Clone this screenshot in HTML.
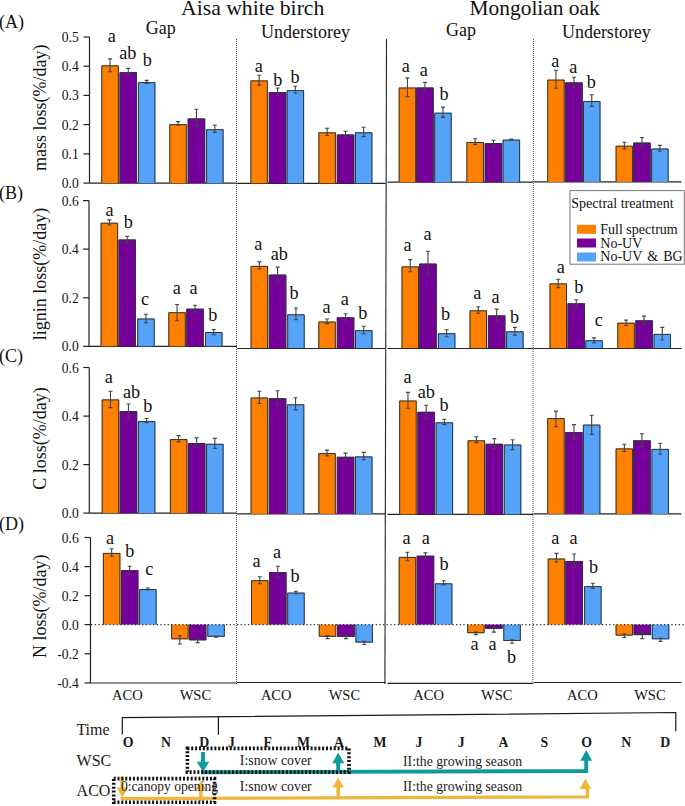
<!DOCTYPE html>
<html><head><meta charset="utf-8"><style>
html,body{margin:0;padding:0;background:#fff;width:685px;height:806px;overflow:hidden;position:relative}
</style></head><body>
<svg width="685" height="806" viewBox="0 0 685 806" style="position:absolute;left:0;top:0">
<g font-family='Liberation Serif' fill="#111">
<text x="181.0" y="15.0" font-size="21.7" text-anchor="start" font-weight="normal" >Aisa white birch</text>
<text x="469.6" y="15.0" font-size="21.4" text-anchor="start" font-weight="normal" >Mongolian oak</text>
<text x="145.8" y="33.5" font-size="18" text-anchor="start" font-weight="normal" >Gap</text>
<text x="261.1" y="37.5" font-size="18" text-anchor="start" font-weight="normal" >Understorey</text>
<text x="445.9" y="35.9" font-size="18" text-anchor="start" font-weight="normal" >Gap</text>
<text x="561.9" y="37.5" font-size="18" text-anchor="start" font-weight="normal" >Understorey</text>
<text x="-1.0" y="27.7" font-size="18" text-anchor="start" font-weight="normal" >(A)</text>
<text x="-1.0" y="199.0" font-size="18" text-anchor="start" font-weight="normal" >(B)</text>
<text x="-1.0" y="361.9" font-size="18" text-anchor="start" font-weight="normal" >(C)</text>
<text x="-1.0" y="529.6" font-size="18" text-anchor="start" font-weight="normal" >(D)</text>
<text x="0" y="0" font-size="18" text-anchor="middle" transform="translate(46.4 107.7) rotate(-90)">mass loss(%/day)</text>
<text x="0" y="0" font-size="18" text-anchor="middle" transform="translate(46.4 273.9) rotate(-90)">lignin loss(%/day)</text>
<text x="0" y="0" font-size="18" text-anchor="middle" transform="translate(46.4 438.5) rotate(-90)">C loss(%/day)</text>
<text x="0" y="0" font-size="18" text-anchor="middle" transform="translate(46.4 606.2) rotate(-90)">N loss(%/day)</text>
</g>
<g fill="none">
<line x1="236.5" y1="39" x2="236.5" y2="684" stroke="#555" stroke-width="1" stroke-dasharray="1 1"/>
<line x1="386.5" y1="39" x2="384.9" y2="684" stroke="#222" stroke-width="1.1"/>
<line x1="533.5" y1="39" x2="532.8" y2="684" stroke="#555" stroke-width="1" stroke-dasharray="1 1"/>
</g>
<line x1="89.5" y1="37.0" x2="89.5" y2="183.1" stroke="#222" stroke-width="1.2"/>
<line x1="83.5" y1="37.0" x2="89.5" y2="37.0" stroke="#222" stroke-width="1.2"/>
<text x="78.7" y="42.0" font-size="13.6" text-anchor="end" font-family='Liberation Serif' fill="#111">0.5</text>
<line x1="83.5" y1="66.2" x2="89.5" y2="66.2" stroke="#222" stroke-width="1.2"/>
<text x="78.7" y="71.2" font-size="13.6" text-anchor="end" font-family='Liberation Serif' fill="#111">0.4</text>
<line x1="83.5" y1="95.4" x2="89.5" y2="95.4" stroke="#222" stroke-width="1.2"/>
<text x="78.7" y="100.4" font-size="13.6" text-anchor="end" font-family='Liberation Serif' fill="#111">0.3</text>
<line x1="83.5" y1="124.6" x2="89.5" y2="124.6" stroke="#222" stroke-width="1.2"/>
<text x="78.7" y="129.6" font-size="13.6" text-anchor="end" font-family='Liberation Serif' fill="#111">0.2</text>
<line x1="83.5" y1="153.9" x2="89.5" y2="153.9" stroke="#222" stroke-width="1.2"/>
<text x="78.7" y="158.9" font-size="13.6" text-anchor="end" font-family='Liberation Serif' fill="#111">0.1</text>
<line x1="83.5" y1="183.1" x2="89.5" y2="183.1" stroke="#222" stroke-width="1.2"/>
<text x="78.7" y="188.1" font-size="13.6" text-anchor="end" font-family='Liberation Serif' fill="#111">0.0</text>
<line x1="89.5" y1="183.1" x2="236.8" y2="183.1" stroke="#222" stroke-width="1.2"/>
<line x1="237.2" y1="183.3" x2="385.6" y2="183.3" stroke="#222" stroke-width="1.2"/>
<line x1="387.5" y1="182.2" x2="533.2" y2="182.2" stroke="#222" stroke-width="1.2"/>
<line x1="533.8" y1="181.9" x2="681.5" y2="181.9" stroke="#222" stroke-width="1.2"/>
<rect x="101.30" y="65.30" width="17.5" height="117.80" fill="#ff8000"/>
<path d="M101.80 183.10V65.80H118.30V183.10" fill="none" stroke="#2e3338" stroke-width="1"/>
<path d="M108.05 58.9H112.05M110.05 58.9V71.7M108.05 71.7H112.05" stroke="#444" stroke-width="1.1" fill="none"/>
<rect x="119.50" y="72.20" width="17.5" height="110.90" fill="#76009a"/>
<path d="M120.00 183.10V72.70H136.50V183.10" fill="none" stroke="#2e3338" stroke-width="1"/>
<path d="M126.25 68.4H130.25M128.25 68.4V74.7M126.25 74.7H130.25" stroke="#444" stroke-width="1.1" fill="none"/>
<rect x="137.90" y="82.10" width="17.5" height="101.00" fill="#55a2f9"/>
<path d="M138.40 183.10V82.60H154.90V183.10" fill="none" stroke="#2e3338" stroke-width="1"/>
<path d="M144.65 80.4H148.65M146.65 80.4V83.4M144.65 83.4H148.65" stroke="#444" stroke-width="1.1" fill="none"/>
<rect x="169.30" y="124.20" width="17.5" height="58.90" fill="#ff8000"/>
<path d="M169.80 183.10V124.70H186.30V183.10" fill="none" stroke="#2e3338" stroke-width="1"/>
<path d="M176.05 121.6H180.05M178.05 121.6V125.3M176.05 125.3H180.05" stroke="#444" stroke-width="1.1" fill="none"/>
<rect x="187.70" y="118.50" width="17.5" height="64.60" fill="#76009a"/>
<path d="M188.20 183.10V119.00H204.70V183.10" fill="none" stroke="#2e3338" stroke-width="1"/>
<path d="M194.45 109.3H198.45M196.45 109.3V125.9M194.45 125.9H198.45" stroke="#444" stroke-width="1.1" fill="none"/>
<rect x="206.10" y="129.20" width="17.5" height="53.90" fill="#55a2f9"/>
<path d="M206.60 183.10V129.70H223.10V183.10" fill="none" stroke="#2e3338" stroke-width="1"/>
<path d="M212.85 125.3H216.85M214.85 125.3V132.4M212.85 132.4H216.85" stroke="#444" stroke-width="1.1" fill="none"/>
<text x="107.7" y="41.9" font-size="18.2" font-family='Liberation Serif' fill="#111">a</text>
<text x="119.3" y="59.300000000000004" font-size="18.2" font-family='Liberation Serif' fill="#111">ab</text>
<text x="142.8" y="65.6" font-size="18.2" font-family='Liberation Serif' fill="#111">b</text>
<rect x="250.40" y="80.40" width="17.5" height="102.90" fill="#ff8000"/>
<path d="M250.90 183.30V80.90H267.40V183.30" fill="none" stroke="#2e3338" stroke-width="1"/>
<path d="M257.15 75.2H261.15M259.15 75.2V85.1M257.15 85.1H261.15" stroke="#444" stroke-width="1.1" fill="none"/>
<rect x="268.80" y="92.10" width="17.5" height="91.20" fill="#76009a"/>
<path d="M269.30 183.30V92.60H285.80V183.30" fill="none" stroke="#2e3338" stroke-width="1"/>
<path d="M275.55 88H279.55M277.55 88V95M275.55 95H279.55" stroke="#444" stroke-width="1.1" fill="none"/>
<rect x="286.60" y="90.10" width="17.5" height="93.20" fill="#55a2f9"/>
<path d="M287.10 183.30V90.60H303.60V183.30" fill="none" stroke="#2e3338" stroke-width="1"/>
<path d="M293.35 86.3H297.35M295.35 86.3V93.3M293.35 93.3H297.35" stroke="#444" stroke-width="1.1" fill="none"/>
<rect x="318.40" y="132.30" width="17.5" height="51.00" fill="#ff8000"/>
<path d="M318.90 183.30V132.80H335.40V183.30" fill="none" stroke="#2e3338" stroke-width="1"/>
<path d="M325.15 128.2H329.15M327.15 128.2V135.5M325.15 135.5H329.15" stroke="#444" stroke-width="1.1" fill="none"/>
<rect x="336.80" y="134.50" width="17.5" height="48.80" fill="#76009a"/>
<path d="M337.30 183.30V135.00H353.80V183.30" fill="none" stroke="#2e3338" stroke-width="1"/>
<path d="M343.55 131.2H347.55M345.55 131.2V137M343.55 137H347.55" stroke="#444" stroke-width="1.1" fill="none"/>
<rect x="354.90" y="132.30" width="17.5" height="51.00" fill="#55a2f9"/>
<path d="M355.40 183.30V132.80H371.90V183.30" fill="none" stroke="#2e3338" stroke-width="1"/>
<path d="M361.65 127.2H365.65M363.65 127.2V136.6M361.65 136.6H365.65" stroke="#444" stroke-width="1.1" fill="none"/>
<text x="254.8" y="72.3" font-size="18.2" font-family='Liberation Serif' fill="#111">a</text>
<text x="273.2" y="85.69999999999999" font-size="18.2" font-family='Liberation Serif' fill="#111">b</text>
<text x="290.5" y="82.6" font-size="18.2" font-family='Liberation Serif' fill="#111">b</text>
<rect x="398.70" y="87.50" width="17.5" height="94.70" fill="#ff8000"/>
<path d="M399.20 182.20V88.00H415.70V182.20" fill="none" stroke="#2e3338" stroke-width="1"/>
<path d="M405.45 77.9H409.45M407.45 77.9V96.6M405.45 96.6H409.45" stroke="#444" stroke-width="1.1" fill="none"/>
<rect x="416.20" y="87.50" width="17.5" height="94.70" fill="#76009a"/>
<path d="M416.70 182.20V88.00H433.20V182.20" fill="none" stroke="#2e3338" stroke-width="1"/>
<path d="M422.95 82.4H426.95M424.95 82.4V91.7M422.95 91.7H426.95" stroke="#444" stroke-width="1.1" fill="none"/>
<rect x="434.20" y="112.70" width="17.5" height="69.50" fill="#55a2f9"/>
<path d="M434.70 182.20V113.20H451.20V182.20" fill="none" stroke="#2e3338" stroke-width="1"/>
<path d="M440.95 107.1H444.95M442.95 107.1V117.4M440.95 117.4H444.95" stroke="#444" stroke-width="1.1" fill="none"/>
<rect x="466.40" y="142.00" width="17.5" height="40.20" fill="#ff8000"/>
<path d="M466.90 182.20V142.50H483.40V182.20" fill="none" stroke="#2e3338" stroke-width="1"/>
<path d="M473.15 138.7H477.15M475.15 138.7V144.5M473.15 144.5H477.15" stroke="#444" stroke-width="1.1" fill="none"/>
<rect x="484.70" y="143.10" width="17.5" height="39.10" fill="#76009a"/>
<path d="M485.20 182.20V143.60H501.70V182.20" fill="none" stroke="#2e3338" stroke-width="1"/>
<path d="M491.45 140.3H495.45M493.45 140.3V146.1M491.45 146.1H495.45" stroke="#444" stroke-width="1.1" fill="none"/>
<rect x="502.60" y="139.60" width="17.5" height="42.60" fill="#55a2f9"/>
<path d="M503.10 182.20V140.10H519.60V182.20" fill="none" stroke="#2e3338" stroke-width="1"/>
<path d="M509.35 139H513.35M511.35 139V140M509.35 140H513.35" stroke="#444" stroke-width="1.1" fill="none"/>
<text x="401.8" y="71.5" font-size="18.2" font-family='Liberation Serif' fill="#111">a</text>
<text x="419.8" y="75.5" font-size="18.2" font-family='Liberation Serif' fill="#111">a</text>
<text x="439.40000000000003" y="100.0" font-size="18.2" font-family='Liberation Serif' fill="#111">b</text>
<rect x="547.20" y="79.60" width="17.5" height="102.30" fill="#ff8000"/>
<path d="M547.70 181.90V80.10H564.20V181.90" fill="none" stroke="#2e3338" stroke-width="1"/>
<path d="M553.95 70.2H557.95M555.95 70.2V88.2M553.95 88.2H557.95" stroke="#444" stroke-width="1.1" fill="none"/>
<rect x="565.20" y="82.40" width="17.5" height="99.50" fill="#76009a"/>
<path d="M565.70 181.90V82.90H582.20V181.90" fill="none" stroke="#2e3338" stroke-width="1"/>
<path d="M571.95 77.2H575.95M573.95 77.2V87.7M571.95 87.7H575.95" stroke="#444" stroke-width="1.1" fill="none"/>
<rect x="583.00" y="101.00" width="17.5" height="80.90" fill="#55a2f9"/>
<path d="M583.50 181.90V101.50H600.00V181.90" fill="none" stroke="#2e3338" stroke-width="1"/>
<path d="M589.75 94.8H593.75M591.75 94.8V106.4M589.75 106.4H593.75" stroke="#444" stroke-width="1.1" fill="none"/>
<rect x="615.60" y="145.70" width="17.5" height="36.20" fill="#ff8000"/>
<path d="M616.10 181.90V146.20H632.60V181.90" fill="none" stroke="#2e3338" stroke-width="1"/>
<path d="M622.35 142.2H626.35M624.35 142.2V149M622.35 149H626.35" stroke="#444" stroke-width="1.1" fill="none"/>
<rect x="633.20" y="142.60" width="17.5" height="39.30" fill="#76009a"/>
<path d="M633.70 181.90V143.10H650.20V181.90" fill="none" stroke="#2e3338" stroke-width="1"/>
<path d="M639.95 137.5H643.95M641.95 137.5V147.3M639.95 147.3H643.95" stroke="#444" stroke-width="1.1" fill="none"/>
<rect x="651.10" y="148.50" width="17.5" height="33.40" fill="#55a2f9"/>
<path d="M651.60 181.90V149.00H668.10V181.90" fill="none" stroke="#2e3338" stroke-width="1"/>
<path d="M657.85 145.4H661.85M659.85 145.4V151.3M657.85 151.3H661.85" stroke="#444" stroke-width="1.1" fill="none"/>
<text x="551.1999999999999" y="67.3" font-size="18.2" font-family='Liberation Serif' fill="#111">a</text>
<text x="569.1999999999999" y="72.5" font-size="18.2" font-family='Liberation Serif' fill="#111">a</text>
<text x="586.6999999999999" y="87.89999999999999" font-size="18.2" font-family='Liberation Serif' fill="#111">b</text>
<line x1="89.0" y1="200.6" x2="89.0" y2="346.3" stroke="#222" stroke-width="1.2"/>
<line x1="83.0" y1="200.6" x2="89.0" y2="200.6" stroke="#222" stroke-width="1.2"/>
<text x="78.7" y="205.6" font-size="13.6" text-anchor="end" font-family='Liberation Serif' fill="#111">0.6</text>
<line x1="83.0" y1="249.1" x2="89.0" y2="249.1" stroke="#222" stroke-width="1.2"/>
<text x="78.7" y="254.1" font-size="13.6" text-anchor="end" font-family='Liberation Serif' fill="#111">0.4</text>
<line x1="83.0" y1="297.8" x2="89.0" y2="297.8" stroke="#222" stroke-width="1.2"/>
<text x="78.7" y="302.8" font-size="13.6" text-anchor="end" font-family='Liberation Serif' fill="#111">0.2</text>
<line x1="83.0" y1="346.3" x2="89.0" y2="346.3" stroke="#222" stroke-width="1.2"/>
<text x="78.7" y="351.3" font-size="13.6" text-anchor="end" font-family='Liberation Serif' fill="#111">0.0</text>
<line x1="89.0" y1="346.4" x2="236.8" y2="346.4" stroke="#222" stroke-width="1.2"/>
<line x1="237.2" y1="348.5" x2="385.6" y2="348.5" stroke="#222" stroke-width="1.2"/>
<line x1="387.5" y1="348.5" x2="533.2" y2="348.5" stroke="#222" stroke-width="1.2"/>
<line x1="533.8" y1="348.5" x2="681.5" y2="348.5" stroke="#222" stroke-width="1.2"/>
<rect x="100.60" y="222.70" width="17.5" height="123.60" fill="#ff8000"/>
<path d="M101.10 346.30V223.20H117.60V346.30" fill="none" stroke="#2e3338" stroke-width="1"/>
<path d="M107.35 219.9H111.35M109.35 219.9V225M107.35 225H111.35" stroke="#444" stroke-width="1.1" fill="none"/>
<rect x="118.50" y="239.50" width="17.5" height="106.80" fill="#76009a"/>
<path d="M119.00 346.30V240.00H135.50V346.30" fill="none" stroke="#2e3338" stroke-width="1"/>
<path d="M125.25 236.3H129.25M127.25 236.3V242.6M125.25 242.6H129.25" stroke="#444" stroke-width="1.1" fill="none"/>
<rect x="137.20" y="318.50" width="17.5" height="27.80" fill="#55a2f9"/>
<path d="M137.70 346.30V319.00H154.20V346.30" fill="none" stroke="#2e3338" stroke-width="1"/>
<path d="M143.95 314.3H147.95M145.95 314.3V322.7M143.95 322.7H147.95" stroke="#444" stroke-width="1.1" fill="none"/>
<rect x="168.30" y="312.20" width="17.5" height="34.10" fill="#ff8000"/>
<path d="M168.80 346.30V312.70H185.30V346.30" fill="none" stroke="#2e3338" stroke-width="1"/>
<path d="M175.05 304.5H179.05M177.05 304.5V320.8M175.05 320.8H179.05" stroke="#444" stroke-width="1.1" fill="none"/>
<rect x="186.30" y="308.70" width="17.5" height="37.60" fill="#76009a"/>
<path d="M186.80 346.30V309.20H203.30V346.30" fill="none" stroke="#2e3338" stroke-width="1"/>
<path d="M193.05 305.2H197.05M195.05 305.2V312.2M193.05 312.2H197.05" stroke="#444" stroke-width="1.1" fill="none"/>
<rect x="205.00" y="332.00" width="17.5" height="14.30" fill="#55a2f9"/>
<path d="M205.50 346.30V332.50H222.00V346.30" fill="none" stroke="#2e3338" stroke-width="1"/>
<path d="M211.75 329.5H215.75M213.75 329.5V334.8M211.75 334.8H215.75" stroke="#444" stroke-width="1.1" fill="none"/>
<text x="105.5" y="215.79999999999998" font-size="18.2" font-family='Liberation Serif' fill="#111">a</text>
<text x="123.7" y="228.0" font-size="18.2" font-family='Liberation Serif' fill="#111">b</text>
<text x="141.0" y="305.1" font-size="18.2" font-family='Liberation Serif' fill="#111">c</text>
<text x="172.8" y="293.90000000000003" font-size="18.2" font-family='Liberation Serif' fill="#111">a</text>
<text x="189.60000000000002" y="293.90000000000003" font-size="18.2" font-family='Liberation Serif' fill="#111">a</text>
<text x="208.3" y="321.40000000000003" font-size="18.2" font-family='Liberation Serif' fill="#111">b</text>
<rect x="250.60" y="265.90" width="17.5" height="82.20" fill="#ff8000"/>
<path d="M251.10 348.10V266.40H267.60V348.10" fill="none" stroke="#2e3338" stroke-width="1"/>
<path d="M257.35 261.9H261.35M259.35 261.9V269M257.35 269H261.35" stroke="#444" stroke-width="1.1" fill="none"/>
<rect x="268.80" y="274.60" width="17.5" height="73.50" fill="#76009a"/>
<path d="M269.30 348.10V275.10H285.80V348.10" fill="none" stroke="#2e3338" stroke-width="1"/>
<path d="M275.55 267.1H279.55M277.55 267.1V281.6M275.55 281.6H279.55" stroke="#444" stroke-width="1.1" fill="none"/>
<rect x="287.20" y="314.30" width="17.5" height="33.80" fill="#55a2f9"/>
<path d="M287.70 348.10V314.80H304.20V348.10" fill="none" stroke="#2e3338" stroke-width="1"/>
<path d="M293.95 308H297.95M295.95 308V319.6M293.95 319.6H297.95" stroke="#444" stroke-width="1.1" fill="none"/>
<rect x="318.30" y="321.50" width="17.5" height="26.60" fill="#ff8000"/>
<path d="M318.80 348.10V322.00H335.30V348.10" fill="none" stroke="#2e3338" stroke-width="1"/>
<path d="M325.05 319H329.05M327.05 319V323.6M325.05 323.6H329.05" stroke="#444" stroke-width="1.1" fill="none"/>
<rect x="336.80" y="317.30" width="17.5" height="30.80" fill="#76009a"/>
<path d="M337.30 348.10V317.80H353.80V348.10" fill="none" stroke="#2e3338" stroke-width="1"/>
<path d="M343.55 313.8H347.55M345.55 313.8V320.3M343.55 320.3H347.55" stroke="#444" stroke-width="1.1" fill="none"/>
<rect x="355.00" y="330.20" width="17.5" height="17.90" fill="#55a2f9"/>
<path d="M355.50 348.10V330.70H372.00V348.10" fill="none" stroke="#2e3338" stroke-width="1"/>
<path d="M361.75 326.2H365.75M363.75 326.2V333.7M361.75 333.7H365.75" stroke="#444" stroke-width="1.1" fill="none"/>
<text x="254.3" y="250.2" font-size="18.2" font-family='Liberation Serif' fill="#111">a</text>
<text x="270.7" y="260.20000000000005" font-size="18.2" font-family='Liberation Serif' fill="#111">ab</text>
<text x="289.40000000000003" y="298.5" font-size="18.2" font-family='Liberation Serif' fill="#111">b</text>
<text x="322.5" y="313.20000000000005" font-size="18.2" font-family='Liberation Serif' fill="#111">a</text>
<text x="340.8" y="304.6" font-size="18.2" font-family='Liberation Serif' fill="#111">a</text>
<text x="358.3" y="319.1" font-size="18.2" font-family='Liberation Serif' fill="#111">b</text>
<rect x="401.50" y="266.40" width="17.5" height="81.70" fill="#ff8000"/>
<path d="M402.00 348.10V266.90H418.50V348.10" fill="none" stroke="#2e3338" stroke-width="1"/>
<path d="M408.25 259.6H412.25M410.25 259.6V271.8M408.25 271.8H412.25" stroke="#444" stroke-width="1.1" fill="none"/>
<rect x="419.20" y="263.60" width="17.5" height="84.50" fill="#76009a"/>
<path d="M419.70 348.10V264.10H436.20V348.10" fill="none" stroke="#2e3338" stroke-width="1"/>
<path d="M425.95 251.2H429.95M427.95 251.2V275.3M425.95 275.3H429.95" stroke="#444" stroke-width="1.1" fill="none"/>
<rect x="437.90" y="333.20" width="17.5" height="14.90" fill="#55a2f9"/>
<path d="M438.40 348.10V333.70H454.90V348.10" fill="none" stroke="#2e3338" stroke-width="1"/>
<path d="M444.65 329.7H448.65M446.65 329.7V336.7M444.65 336.7H448.65" stroke="#444" stroke-width="1.1" fill="none"/>
<rect x="469.50" y="310.30" width="17.5" height="37.80" fill="#ff8000"/>
<path d="M470.00 348.10V310.80H486.50V348.10" fill="none" stroke="#2e3338" stroke-width="1"/>
<path d="M476.25 306.8H480.25M478.25 306.8V313.3M476.25 313.3H480.25" stroke="#444" stroke-width="1.1" fill="none"/>
<rect x="487.90" y="315.40" width="17.5" height="32.70" fill="#76009a"/>
<path d="M488.40 348.10V315.90H504.90V348.10" fill="none" stroke="#2e3338" stroke-width="1"/>
<path d="M494.65 309.1H498.65M496.65 309.1V320.8M494.65 320.8H498.65" stroke="#444" stroke-width="1.1" fill="none"/>
<rect x="506.10" y="331.30" width="17.5" height="16.80" fill="#55a2f9"/>
<path d="M506.60 348.10V331.80H523.10V348.10" fill="none" stroke="#2e3338" stroke-width="1"/>
<path d="M512.85 327.4H516.85M514.85 327.4V335.3M512.85 335.3H516.85" stroke="#444" stroke-width="1.1" fill="none"/>
<text x="403.6" y="251.29999999999998" font-size="18.2" font-family='Liberation Serif' fill="#111">a</text>
<text x="423.5" y="240.1" font-size="18.2" font-family='Liberation Serif' fill="#111">a</text>
<text x="441.0" y="320.20000000000005" font-size="18.2" font-family='Liberation Serif' fill="#111">b</text>
<text x="473.2" y="298.8" font-size="18.2" font-family='Liberation Serif' fill="#111">a</text>
<text x="491.5" y="303.40000000000003" font-size="18.2" font-family='Liberation Serif' fill="#111">a</text>
<text x="510.1" y="323.0" font-size="18.2" font-family='Liberation Serif' fill="#111">b</text>
<rect x="549.50" y="283.40" width="17.5" height="64.70" fill="#ff8000"/>
<path d="M550.00 348.10V283.90H566.50V348.10" fill="none" stroke="#2e3338" stroke-width="1"/>
<path d="M556.25 279.2H560.25M558.25 279.2V287.6M556.25 287.6H560.25" stroke="#444" stroke-width="1.1" fill="none"/>
<rect x="567.50" y="303.30" width="17.5" height="44.80" fill="#76009a"/>
<path d="M568.00 348.10V303.80H584.50V348.10" fill="none" stroke="#2e3338" stroke-width="1"/>
<path d="M574.25 299.8H578.25M576.25 299.8V306.1M574.25 306.1H578.25" stroke="#444" stroke-width="1.1" fill="none"/>
<rect x="585.30" y="340.20" width="17.5" height="7.90" fill="#55a2f9"/>
<path d="M585.80 348.10V340.70H602.30V348.10" fill="none" stroke="#2e3338" stroke-width="1"/>
<path d="M592.05 337.9H596.05M594.05 337.9V343M592.05 343H596.05" stroke="#444" stroke-width="1.1" fill="none"/>
<rect x="617.30" y="322.70" width="17.5" height="25.40" fill="#ff8000"/>
<path d="M617.80 348.10V323.20H634.30V348.10" fill="none" stroke="#2e3338" stroke-width="1"/>
<path d="M624.05 320.1H628.05M626.05 320.1V325.5M624.05 325.5H628.05" stroke="#444" stroke-width="1.1" fill="none"/>
<rect x="635.30" y="320.30" width="17.5" height="27.80" fill="#76009a"/>
<path d="M635.80 348.10V320.80H652.30V348.10" fill="none" stroke="#2e3338" stroke-width="1"/>
<path d="M642.05 316.1H646.05M644.05 316.1V324.3M642.05 324.3H646.05" stroke="#444" stroke-width="1.1" fill="none"/>
<rect x="653.50" y="333.90" width="17.5" height="14.20" fill="#55a2f9"/>
<path d="M654.00 348.10V334.40H670.50V348.10" fill="none" stroke="#2e3338" stroke-width="1"/>
<path d="M660.25 327.4H664.25M662.25 327.4V340M660.25 340H664.25" stroke="#444" stroke-width="1.1" fill="none"/>
<text x="556.8" y="272.8" font-size="18.2" font-family='Liberation Serif' fill="#111">a</text>
<text x="574.3" y="293.40000000000003" font-size="18.2" font-family='Liberation Serif' fill="#111">b</text>
<text x="594.8" y="325.6" font-size="18.2" font-family='Liberation Serif' fill="#111">c</text>
<line x1="89.3" y1="367.5" x2="89.3" y2="513.1" stroke="#222" stroke-width="1.2"/>
<line x1="83.3" y1="367.5" x2="89.3" y2="367.5" stroke="#222" stroke-width="1.2"/>
<text x="78.7" y="372.5" font-size="13.6" text-anchor="end" font-family='Liberation Serif' fill="#111">0.6</text>
<line x1="83.3" y1="416.1" x2="89.3" y2="416.1" stroke="#222" stroke-width="1.2"/>
<text x="78.7" y="421.1" font-size="13.6" text-anchor="end" font-family='Liberation Serif' fill="#111">0.4</text>
<line x1="83.3" y1="464.6" x2="89.3" y2="464.6" stroke="#222" stroke-width="1.2"/>
<text x="78.7" y="469.6" font-size="13.6" text-anchor="end" font-family='Liberation Serif' fill="#111">0.2</text>
<line x1="83.3" y1="513.1" x2="89.3" y2="513.1" stroke="#222" stroke-width="1.2"/>
<text x="78.7" y="518.1" font-size="13.6" text-anchor="end" font-family='Liberation Serif' fill="#111">0.0</text>
<line x1="89.3" y1="513.1" x2="236.8" y2="513.1" stroke="#222" stroke-width="1.2"/>
<line x1="237.2" y1="513.8" x2="385.6" y2="513.8" stroke="#222" stroke-width="1.2"/>
<line x1="387.5" y1="514.3" x2="533.2" y2="514.3" stroke="#222" stroke-width="1.2"/>
<line x1="533.8" y1="513.8" x2="681.5" y2="513.8" stroke="#222" stroke-width="1.2"/>
<rect x="101.70" y="399.40" width="17.5" height="113.70" fill="#ff8000"/>
<path d="M102.20 513.10V399.90H118.70V513.10" fill="none" stroke="#2e3338" stroke-width="1"/>
<path d="M108.45 391.2H112.45M110.45 391.2V407.6M108.45 407.6H112.45" stroke="#444" stroke-width="1.1" fill="none"/>
<rect x="119.70" y="411.10" width="17.5" height="102.00" fill="#76009a"/>
<path d="M120.20 513.10V411.60H136.70V513.10" fill="none" stroke="#2e3338" stroke-width="1"/>
<path d="M126.45 404H130.45M128.45 404V417.6M126.45 417.6H130.45" stroke="#444" stroke-width="1.1" fill="none"/>
<rect x="137.90" y="421.10" width="17.5" height="92.00" fill="#55a2f9"/>
<path d="M138.40 513.10V421.60H154.90V513.10" fill="none" stroke="#2e3338" stroke-width="1"/>
<path d="M144.65 418.5H148.65M146.65 418.5V422.7M144.65 422.7H148.65" stroke="#444" stroke-width="1.1" fill="none"/>
<rect x="169.90" y="439.10" width="17.5" height="74.00" fill="#ff8000"/>
<path d="M170.40 513.10V439.60H186.90V513.10" fill="none" stroke="#2e3338" stroke-width="1"/>
<path d="M176.65 435.6H180.65M178.65 435.6V441.9M176.65 441.9H180.65" stroke="#444" stroke-width="1.1" fill="none"/>
<rect x="187.90" y="443.10" width="17.5" height="70.00" fill="#76009a"/>
<path d="M188.40 513.10V443.60H204.90V513.10" fill="none" stroke="#2e3338" stroke-width="1"/>
<path d="M194.65 437.9H198.65M196.65 437.9V447.3M194.65 447.3H198.65" stroke="#444" stroke-width="1.1" fill="none"/>
<rect x="206.10" y="443.80" width="17.5" height="69.30" fill="#55a2f9"/>
<path d="M206.60 513.10V444.30H223.10V513.10" fill="none" stroke="#2e3338" stroke-width="1"/>
<path d="M212.85 438.4H216.85M214.85 438.4V448.4M212.85 448.4H216.85" stroke="#444" stroke-width="1.1" fill="none"/>
<text x="104.8" y="383.20000000000005" font-size="18.2" font-family='Liberation Serif' fill="#111">a</text>
<text x="123.0" y="397.6" font-size="18.2" font-family='Liberation Serif' fill="#111">ab</text>
<text x="143.3" y="411.70000000000005" font-size="18.2" font-family='Liberation Serif' fill="#111">b</text>
<rect x="250.60" y="397.50" width="17.5" height="116.30" fill="#ff8000"/>
<path d="M251.10 513.80V398.00H267.60V513.80" fill="none" stroke="#2e3338" stroke-width="1"/>
<path d="M257.35 391.2H261.35M259.35 391.2V403.4M257.35 403.4H261.35" stroke="#444" stroke-width="1.1" fill="none"/>
<rect x="268.80" y="398.20" width="17.5" height="115.60" fill="#76009a"/>
<path d="M269.30 513.80V398.70H285.80V513.80" fill="none" stroke="#2e3338" stroke-width="1"/>
<path d="M275.55 390.7H279.55M277.55 390.7V404.8M275.55 404.8H279.55" stroke="#444" stroke-width="1.1" fill="none"/>
<rect x="286.80" y="404.30" width="17.5" height="109.50" fill="#55a2f9"/>
<path d="M287.30 513.80V404.80H303.80V513.80" fill="none" stroke="#2e3338" stroke-width="1"/>
<path d="M293.55 397.7H297.55M295.55 397.7V409.9M293.55 409.9H297.55" stroke="#444" stroke-width="1.1" fill="none"/>
<rect x="318.30" y="453.10" width="17.5" height="60.70" fill="#ff8000"/>
<path d="M318.80 513.80V453.60H335.30V513.80" fill="none" stroke="#2e3338" stroke-width="1"/>
<path d="M325.05 450.1H329.05M327.05 450.1V455.9M325.05 455.9H329.05" stroke="#444" stroke-width="1.1" fill="none"/>
<rect x="336.80" y="456.80" width="17.5" height="57.00" fill="#76009a"/>
<path d="M337.30 513.80V457.30H353.80V513.80" fill="none" stroke="#2e3338" stroke-width="1"/>
<path d="M343.55 453.1H347.55M345.55 453.1V459.7M343.55 459.7H347.55" stroke="#444" stroke-width="1.1" fill="none"/>
<rect x="355.00" y="456.40" width="17.5" height="57.40" fill="#55a2f9"/>
<path d="M355.50 513.80V456.90H372.00V513.80" fill="none" stroke="#2e3338" stroke-width="1"/>
<path d="M361.75 452.4H365.75M363.75 452.4V459.7M361.75 459.7H365.75" stroke="#444" stroke-width="1.1" fill="none"/>
<rect x="399.20" y="400.50" width="17.5" height="113.80" fill="#ff8000"/>
<path d="M399.70 514.30V401.00H416.20V514.30" fill="none" stroke="#2e3338" stroke-width="1"/>
<path d="M405.95 392.4H409.95M407.95 392.4V408.3M405.95 408.3H409.95" stroke="#444" stroke-width="1.1" fill="none"/>
<rect x="417.40" y="411.80" width="17.5" height="102.50" fill="#76009a"/>
<path d="M417.90 514.30V412.30H434.40V514.30" fill="none" stroke="#2e3338" stroke-width="1"/>
<path d="M424.15 405.2H428.15M426.15 405.2V418.5M424.15 418.5H428.15" stroke="#444" stroke-width="1.1" fill="none"/>
<rect x="435.60" y="422.30" width="17.5" height="92.00" fill="#55a2f9"/>
<path d="M436.10 514.30V422.80H452.60V514.30" fill="none" stroke="#2e3338" stroke-width="1"/>
<path d="M442.35 419.2H446.35M444.35 419.2V424.6M442.35 424.6H446.35" stroke="#444" stroke-width="1.1" fill="none"/>
<rect x="467.60" y="440.30" width="17.5" height="74.00" fill="#ff8000"/>
<path d="M468.10 514.30V440.80H484.60V514.30" fill="none" stroke="#2e3338" stroke-width="1"/>
<path d="M474.35 436.8H478.35M476.35 436.8V442.6M474.35 442.6H478.35" stroke="#444" stroke-width="1.1" fill="none"/>
<rect x="485.60" y="443.80" width="17.5" height="70.50" fill="#76009a"/>
<path d="M486.10 514.30V444.30H502.60V514.30" fill="none" stroke="#2e3338" stroke-width="1"/>
<path d="M492.35 438.6H496.35M494.35 438.6V448.4M492.35 448.4H496.35" stroke="#444" stroke-width="1.1" fill="none"/>
<rect x="503.80" y="444.50" width="17.5" height="69.80" fill="#55a2f9"/>
<path d="M504.30 514.30V445.00H520.80V514.30" fill="none" stroke="#2e3338" stroke-width="1"/>
<path d="M510.55 439.8H514.55M512.55 439.8V449.6M510.55 449.6H514.55" stroke="#444" stroke-width="1.1" fill="none"/>
<text x="403.6" y="383.20000000000005" font-size="18.2" font-family='Liberation Serif' fill="#111">a</text>
<text x="417.8" y="397.6" font-size="18.2" font-family='Liberation Serif' fill="#111">ab</text>
<text x="439.40000000000003" y="410.5" font-size="18.2" font-family='Liberation Serif' fill="#111">b</text>
<rect x="547.20" y="418.10" width="17.5" height="95.70" fill="#ff8000"/>
<path d="M547.70 513.80V418.60H564.20V513.80" fill="none" stroke="#2e3338" stroke-width="1"/>
<path d="M553.95 411.1H557.95M555.95 411.1V426.7M553.95 426.7H557.95" stroke="#444" stroke-width="1.1" fill="none"/>
<rect x="565.20" y="432.10" width="17.5" height="81.70" fill="#76009a"/>
<path d="M565.70 513.80V432.60H582.20V513.80" fill="none" stroke="#2e3338" stroke-width="1"/>
<path d="M571.95 424.6H575.95M573.95 424.6V439.1M571.95 439.1H575.95" stroke="#444" stroke-width="1.1" fill="none"/>
<rect x="582.90" y="424.60" width="17.5" height="89.20" fill="#55a2f9"/>
<path d="M583.40 513.80V425.10H599.90V513.80" fill="none" stroke="#2e3338" stroke-width="1"/>
<path d="M589.65 415.3H593.65M591.65 415.3V434.4M589.65 434.4H593.65" stroke="#444" stroke-width="1.1" fill="none"/>
<rect x="615.60" y="448.40" width="17.5" height="65.40" fill="#ff8000"/>
<path d="M616.10 513.80V448.90H632.60V513.80" fill="none" stroke="#2e3338" stroke-width="1"/>
<path d="M622.35 444.2H626.35M624.35 444.2V451.5M622.35 451.5H626.35" stroke="#444" stroke-width="1.1" fill="none"/>
<rect x="633.20" y="440.30" width="17.5" height="73.50" fill="#76009a"/>
<path d="M633.70 513.80V440.80H650.20V513.80" fill="none" stroke="#2e3338" stroke-width="1"/>
<path d="M639.95 433.7H643.95M641.95 433.7V446.6M639.95 446.6H643.95" stroke="#444" stroke-width="1.1" fill="none"/>
<rect x="651.40" y="448.90" width="17.5" height="64.90" fill="#55a2f9"/>
<path d="M651.90 513.80V449.40H668.40V513.80" fill="none" stroke="#2e3338" stroke-width="1"/>
<path d="M658.15 443.3H662.15M660.15 443.3V454.3M658.15 454.3H662.15" stroke="#444" stroke-width="1.1" fill="none"/>
<line x1="90.5" y1="537.5" x2="90.5" y2="683.0" stroke="#222" stroke-width="1.2"/>
<line x1="84.5" y1="537.5" x2="90.5" y2="537.5" stroke="#222" stroke-width="1.2"/>
<text x="78.7" y="542.5" font-size="13.6" text-anchor="end" font-family='Liberation Serif' fill="#111">0.6</text>
<line x1="84.5" y1="566.6" x2="90.5" y2="566.6" stroke="#222" stroke-width="1.2"/>
<text x="78.7" y="571.6" font-size="13.6" text-anchor="end" font-family='Liberation Serif' fill="#111">0.4</text>
<line x1="84.5" y1="595.7" x2="90.5" y2="595.7" stroke="#222" stroke-width="1.2"/>
<text x="78.7" y="600.7" font-size="13.6" text-anchor="end" font-family='Liberation Serif' fill="#111">0.2</text>
<line x1="84.5" y1="624.6" x2="90.5" y2="624.6" stroke="#222" stroke-width="1.2"/>
<text x="78.7" y="629.6" font-size="13.6" text-anchor="end" font-family='Liberation Serif' fill="#111">0.0</text>
<line x1="84.5" y1="653.8" x2="90.5" y2="653.8" stroke="#222" stroke-width="1.2"/>
<text x="78.7" y="658.8" font-size="13.6" text-anchor="end" font-family='Liberation Serif' fill="#111">-0.2</text>
<line x1="84.5" y1="683.0" x2="90.5" y2="683.0" stroke="#222" stroke-width="1.2"/>
<text x="78.7" y="688.0" font-size="13.6" text-anchor="end" font-family='Liberation Serif' fill="#111">-0.4</text>
<line x1="90.5" y1="683.0" x2="236.8" y2="683.0" stroke="#222" stroke-width="1.2"/>
<line x1="237.2" y1="682.5" x2="385.6" y2="682.5" stroke="#222" stroke-width="1.2"/>
<line x1="387.5" y1="683.4" x2="533.2" y2="683.4" stroke="#222" stroke-width="1.2"/>
<line x1="533.8" y1="682.5" x2="681.5" y2="682.5" stroke="#222" stroke-width="1.2"/>
<rect x="102.90" y="552.90" width="17.5" height="71.70" fill="#ff8000"/>
<path d="M103.40 624.60V553.40H119.90V624.60" fill="none" stroke="#2e3338" stroke-width="1"/>
<path d="M109.65 548.7H113.65M111.65 548.7V556.2M109.65 556.2H113.65" stroke="#444" stroke-width="1.1" fill="none"/>
<rect x="120.90" y="570.20" width="17.5" height="54.40" fill="#76009a"/>
<path d="M121.40 624.60V570.70H137.90V624.60" fill="none" stroke="#2e3338" stroke-width="1"/>
<path d="M127.65 566.2H131.65M129.65 566.2V573.7M127.65 573.7H131.65" stroke="#444" stroke-width="1.1" fill="none"/>
<rect x="139.10" y="589.10" width="17.5" height="35.50" fill="#55a2f9"/>
<path d="M139.60 624.60V589.60H156.10V624.60" fill="none" stroke="#2e3338" stroke-width="1"/>
<path d="M145.85 588H149.85M147.85 588V589.6M145.85 589.6H149.85" stroke="#444" stroke-width="1.1" fill="none"/>
<rect x="171.10" y="624.60" width="17.5" height="14.70" fill="#ff8000"/>
<path d="M171.60 624.60V638.80H188.10V624.60" fill="none" stroke="#2e3338" stroke-width="1"/>
<path d="M177.85 635.6H181.85M179.85 635.6V644M177.85 644H181.85" stroke="#444" stroke-width="1.1" fill="none"/>
<rect x="188.90" y="624.60" width="17.5" height="15.70" fill="#76009a"/>
<path d="M189.40 624.60V639.80H205.90V624.60" fill="none" stroke="#2e3338" stroke-width="1"/>
<path d="M195.65 638.6H199.65M197.65 638.6V642.6M195.65 642.6H199.65" stroke="#444" stroke-width="1.1" fill="none"/>
<rect x="207.30" y="624.60" width="17.5" height="12.20" fill="#55a2f9"/>
<path d="M207.80 624.60V636.30H224.30V624.60" fill="none" stroke="#2e3338" stroke-width="1"/>
<path d="M214.05 636.3H218.05M216.05 636.3V637.3M214.05 637.3H218.05" stroke="#444" stroke-width="1.1" fill="none"/>
<text x="106.0" y="544.1" font-size="18.2" font-family='Liberation Serif' fill="#111">a</text>
<text x="125.3" y="556.8000000000001" font-size="18.2" font-family='Liberation Serif' fill="#111">b</text>
<text x="145.20000000000002" y="574.5" font-size="18.2" font-family='Liberation Serif' fill="#111">c</text>
<rect x="251.00" y="580.20" width="17.5" height="44.40" fill="#ff8000"/>
<path d="M251.50 624.60V580.70H268.00V624.60" fill="none" stroke="#2e3338" stroke-width="1"/>
<path d="M257.75 576.7H261.75M259.75 576.7V583.7M257.75 583.7H261.75" stroke="#444" stroke-width="1.1" fill="none"/>
<rect x="269.00" y="572.00" width="17.5" height="52.60" fill="#76009a"/>
<path d="M269.50 624.60V572.50H286.00V624.60" fill="none" stroke="#2e3338" stroke-width="1"/>
<path d="M275.75 566.2H279.75M277.75 566.2V577.2M275.75 577.2H279.75" stroke="#444" stroke-width="1.1" fill="none"/>
<rect x="287.20" y="592.60" width="17.5" height="32.00" fill="#55a2f9"/>
<path d="M287.70 624.60V593.10H304.20V624.60" fill="none" stroke="#2e3338" stroke-width="1"/>
<path d="M293.95 591.2H297.95M295.95 591.2V593.8M293.95 593.8H297.95" stroke="#444" stroke-width="1.1" fill="none"/>
<rect x="318.80" y="624.60" width="17.5" height="12.20" fill="#ff8000"/>
<path d="M319.30 624.60V636.30H335.80V624.60" fill="none" stroke="#2e3338" stroke-width="1"/>
<path d="M325.55 635.6H329.55M327.55 635.6V638.6M325.55 638.6H329.55" stroke="#444" stroke-width="1.1" fill="none"/>
<rect x="337.20" y="624.60" width="17.5" height="12.20" fill="#76009a"/>
<path d="M337.70 624.60V636.30H354.20V624.60" fill="none" stroke="#2e3338" stroke-width="1"/>
<path d="M343.95 635.6H347.95M345.95 635.6V638.6M343.95 638.6H347.95" stroke="#444" stroke-width="1.1" fill="none"/>
<rect x="355.40" y="624.60" width="17.5" height="18.00" fill="#55a2f9"/>
<path d="M355.90 624.60V642.10H372.40V624.60" fill="none" stroke="#2e3338" stroke-width="1"/>
<path d="M362.15 641.4H366.15M364.15 641.4V644.5M362.15 644.5H366.15" stroke="#444" stroke-width="1.1" fill="none"/>
<text x="252.5" y="566.8000000000001" font-size="18.2" font-family='Liberation Serif' fill="#111">a</text>
<text x="273.0" y="558.2" font-size="18.2" font-family='Liberation Serif' fill="#111">a</text>
<text x="290.5" y="581.5" font-size="18.2" font-family='Liberation Serif' fill="#111">b</text>
<rect x="398.70" y="556.90" width="17.5" height="67.70" fill="#ff8000"/>
<path d="M399.20 624.60V557.40H415.70V624.60" fill="none" stroke="#2e3338" stroke-width="1"/>
<path d="M405.45 552.2H409.45M407.45 552.2V560.8M405.45 560.8H409.45" stroke="#444" stroke-width="1.1" fill="none"/>
<rect x="416.70" y="555.70" width="17.5" height="68.90" fill="#76009a"/>
<path d="M417.20 624.60V556.20H433.70V624.60" fill="none" stroke="#2e3338" stroke-width="1"/>
<path d="M423.45 552.9H427.45M425.45 552.9V558M423.45 558H427.45" stroke="#444" stroke-width="1.1" fill="none"/>
<rect x="434.90" y="583.30" width="17.5" height="41.30" fill="#55a2f9"/>
<path d="M435.40 624.60V583.80H451.90V624.60" fill="none" stroke="#2e3338" stroke-width="1"/>
<path d="M441.65 580.7H445.65M443.65 580.7V584.9M441.65 584.9H445.65" stroke="#444" stroke-width="1.1" fill="none"/>
<rect x="467.10" y="624.60" width="17.5" height="8.60" fill="#ff8000"/>
<path d="M467.60 624.60V632.70H484.10V624.60" fill="none" stroke="#2e3338" stroke-width="1"/>
<path d="M473.85 632H477.85M475.85 632V634.6M473.85 634.6H477.85" stroke="#444" stroke-width="1.1" fill="none"/>
<rect x="485.10" y="624.60" width="17.5" height="4.20" fill="#76009a"/>
<path d="M485.60 624.60V628.30H502.10V624.60" fill="none" stroke="#2e3338" stroke-width="1"/>
<path d="M491.85 627H495.85M493.85 627V632.1M491.85 632.1H495.85" stroke="#444" stroke-width="1.1" fill="none"/>
<rect x="503.30" y="624.60" width="17.5" height="16.40" fill="#55a2f9"/>
<path d="M503.80 624.60V640.50H520.30V624.60" fill="none" stroke="#2e3338" stroke-width="1"/>
<path d="M510.05 639.8H514.05M512.05 639.8V643.3M510.05 643.3H514.05" stroke="#444" stroke-width="1.1" fill="none"/>
<text x="402.5" y="544.1" font-size="18.2" font-family='Liberation Serif' fill="#111">a</text>
<text x="421.8" y="544.1" font-size="18.2" font-family='Liberation Serif' fill="#111">a</text>
<text x="439.40000000000003" y="569.8000000000001" font-size="18.2" font-family='Liberation Serif' fill="#111">b</text>
<text x="470.40000000000003" y="650.2" font-size="18.2" font-family='Liberation Serif' fill="#111">a</text>
<text x="488.40000000000003" y="650.2" font-size="18.2" font-family='Liberation Serif' fill="#111">a</text>
<text x="507.1" y="663.0" font-size="18.2" font-family='Liberation Serif' fill="#111">b</text>
<rect x="547.70" y="558.50" width="17.5" height="66.10" fill="#ff8000"/>
<path d="M548.20 624.60V559.00H564.70V624.60" fill="none" stroke="#2e3338" stroke-width="1"/>
<path d="M554.45 553.4H558.45M556.45 553.4V562M554.45 562H558.45" stroke="#444" stroke-width="1.1" fill="none"/>
<rect x="565.40" y="561.10" width="17.5" height="63.50" fill="#76009a"/>
<path d="M565.90 624.60V561.60H582.40V624.60" fill="none" stroke="#2e3338" stroke-width="1"/>
<path d="M572.15 554H576.15M574.15 554V567.8M572.15 567.8H576.15" stroke="#444" stroke-width="1.1" fill="none"/>
<rect x="584.10" y="586.10" width="17.5" height="38.50" fill="#55a2f9"/>
<path d="M584.60 624.60V586.60H601.10V624.60" fill="none" stroke="#2e3338" stroke-width="1"/>
<path d="M590.85 583.3H594.85M592.85 583.3V588.4M590.85 588.4H594.85" stroke="#444" stroke-width="1.1" fill="none"/>
<rect x="615.60" y="624.60" width="17.5" height="11.00" fill="#ff8000"/>
<path d="M616.10 624.60V635.10H632.60V624.60" fill="none" stroke="#2e3338" stroke-width="1"/>
<path d="M622.35 634H626.35M624.35 634V637.5M622.35 637.5H626.35" stroke="#444" stroke-width="1.1" fill="none"/>
<rect x="633.60" y="624.60" width="17.5" height="10.50" fill="#76009a"/>
<path d="M634.10 624.60V634.60H650.60V624.60" fill="none" stroke="#2e3338" stroke-width="1"/>
<path d="M640.35 632.3H644.35M642.35 632.3V638.6M640.35 638.6H644.35" stroke="#444" stroke-width="1.1" fill="none"/>
<rect x="651.80" y="624.60" width="17.5" height="14.70" fill="#55a2f9"/>
<path d="M652.30 624.60V638.80H668.80V624.60" fill="none" stroke="#2e3338" stroke-width="1"/>
<path d="M658.55 638.2H662.55M660.55 638.2V641.4M658.55 641.4H662.55" stroke="#444" stroke-width="1.1" fill="none"/>
<text x="551.1999999999999" y="544.1" font-size="18.2" font-family='Liberation Serif' fill="#111">a</text>
<text x="569.5999999999999" y="544.1" font-size="18.2" font-family='Liberation Serif' fill="#111">a</text>
<text x="589.0" y="572.6" font-size="18.2" font-family='Liberation Serif' fill="#111">b</text>
<line x1="91" y1="624.6" x2="685" y2="624.6" stroke="#333" stroke-width="1.1" stroke-dasharray="1.3 2.35"/>
<g font-family='Liberation Serif' fill="#111" font-size="15">
<text x="112.0" y="700.4" font-size="14.5" text-anchor="start" font-weight="normal" >ACO</text>
<text x="179.70000000000002" y="700.4" font-size="14.5" text-anchor="start" font-weight="normal" >WSC</text>
<text x="260.9" y="700.4" font-size="14.5" text-anchor="start" font-weight="normal" >ACO</text>
<text x="328.7" y="700.4" font-size="14.5" text-anchor="start" font-weight="normal" >WSC</text>
<text x="413.29999999999995" y="700.4" font-size="14.5" text-anchor="start" font-weight="normal" >ACO</text>
<text x="481.0" y="700.4" font-size="14.5" text-anchor="start" font-weight="normal" >WSC</text>
<text x="567.1" y="700.4" font-size="14.5" text-anchor="start" font-weight="normal" >ACO</text>
<text x="634.1999999999999" y="700.4" font-size="14.5" text-anchor="start" font-weight="normal" >WSC</text>
</g>
<rect x="570" y="190.6" width="114.3" height="73.6" fill="#fff" stroke="#777" stroke-width="1"/>
<g font-family='Liberation Serif' fill="#111">
<text x="571.3" y="208.2" font-size="14" text-anchor="start" font-weight="normal" >Spectral treatment</text>
<rect x="577" y="224.8" width="19" height="9" fill="#ff8000"/>
<rect x="577" y="238.5" width="19" height="9" fill="#76009a"/>
<rect x="577" y="252.5" width="19" height="9" fill="#55a2f9"/>
<text x="600.3" y="234.3" font-size="14" text-anchor="start" font-weight="normal" >Full spectrum</text>
<text x="600.3" y="247.5" font-size="14" text-anchor="start" font-weight="normal" >No-UV</text>
<text x="600.3" y="260.6" font-size="14" text-anchor="start" font-weight="normal" word-spacing="1.6">No-UV &amp; BG</text>
</g>
<g fill="none" stroke="#1a1a1a" stroke-width="1.2">
<path d="M122.3 734.6V717.7L675.8 712.5V731.2"/>
<line x1="218.4" y1="716.8" x2="218.4" y2="734.8"/>
</g>
<g font-family='Liberation Serif' fill="#1a1a1a">
<text x="76.4" y="734.6" font-size="16" text-anchor="start" font-weight="normal" >Time</text>
<text x="76.6" y="765.7" font-size="16" text-anchor="start" font-weight="normal" >WSC</text>
<text x="76.6" y="796.4" font-size="16" text-anchor="start" font-weight="normal" >ACO</text>
<text x="128" y="746.7" font-size="13.8" text-anchor="middle" font-weight="bold" >O</text>
<text x="165.9" y="746.7" font-size="13.8" text-anchor="middle" font-weight="bold" >N</text>
<text x="204.3" y="746.7" font-size="13.8" text-anchor="middle" font-weight="bold" >D</text>
<text x="231.5" y="746.7" font-size="13.8" text-anchor="middle" font-weight="bold" >J</text>
<text x="267.8" y="746.7" font-size="13.8" text-anchor="middle" font-weight="bold" >F</text>
<text x="303.6" y="746.7" font-size="13.8" text-anchor="middle" font-weight="bold" >M</text>
<text x="338.9" y="746.7" font-size="13.8" text-anchor="middle" font-weight="bold" >A</text>
<text x="380" y="746.7" font-size="13.8" text-anchor="middle" font-weight="bold" >M</text>
<text x="419" y="746.7" font-size="13.8" text-anchor="middle" font-weight="bold" >J</text>
<text x="461.1" y="746.7" font-size="13.8" text-anchor="middle" font-weight="bold" >J</text>
<text x="503.5" y="746.7" font-size="13.8" text-anchor="middle" font-weight="bold" >A</text>
<text x="544.3" y="746.7" font-size="13.8" text-anchor="middle" font-weight="bold" >S</text>
<text x="586.7" y="746.7" font-size="13.8" text-anchor="middle" font-weight="bold" >O</text>
<text x="626.2" y="746.7" font-size="13.8" text-anchor="middle" font-weight="bold" >N</text>
<text x="665.3" y="746.7" font-size="13.8" text-anchor="middle" font-weight="bold" >D</text>
</g>
<path d="M203 752V762M201.1 772.3L586.2 771V760" stroke="#0f9b9b" stroke-width="3.9" fill="none"/>
<path d="M196.8 761.8H209.2L203 771.9Z" fill="#0f9b9b"/>
<path d="M580.3 760.8H592.2L586.2 749.9Z" fill="#0f9b9b"/>
<path d="M338.2 773V762" stroke="#0f9b9b" stroke-width="4" fill="none"/>
<path d="M332.2 763.2H344.2L338.2 752.6Z" fill="#0f9b9b"/>
<path d="M122 776.6V789M120.6 798.6L587.4 796.9V788" stroke="#efb63c" stroke-width="3.3" fill="none"/>
<path d="M116.9 787.6H127.7L122.3 797.7Z" fill="#efb63c"/>
<path d="M579.5 789H591.2L585.4 778.8Z" fill="#efb63c"/>
<path d="M200.8 801V788M338.2 797V787" stroke="#efb63c" stroke-width="3.6" fill="none"/>
<path d="M195.2 789.4H206.4L200.8 781.3Z" fill="#efb63c"/>
<path d="M332.4 787.5H344L338.2 777.6Z" fill="#efb63c"/>
<path d="M187.4 748.4H349V772.1H187.4Z" fill="none" stroke="#111" stroke-width="3.6" stroke-dasharray="2 1.85"/>
<path d="M113.7 778.6H214.5V802.2H113.7Z" fill="none" stroke="#111" stroke-width="3.6" stroke-dasharray="2 1.85"/>
<g font-family='Liberation Serif' fill="#1a1a1a">
<text x="239.8" y="764.8" font-size="13.85" text-anchor="start" font-weight="normal" >I:snow cover</text>
<text x="239.8" y="790.9" font-size="13.85" text-anchor="start" font-weight="normal" >I:snow cover</text>
<text x="403.0" y="765.5" font-size="13.75" text-anchor="start" font-weight="normal" >II:the growing season</text>
<text x="403.0" y="791.3" font-size="13.75" text-anchor="start" font-weight="normal" >II:the growing season</text>
<text x="121.0" y="791.1" font-size="13.6" text-anchor="start" font-weight="normal" >0:canopy opening</text>
</g>
</svg>
</body></html>
